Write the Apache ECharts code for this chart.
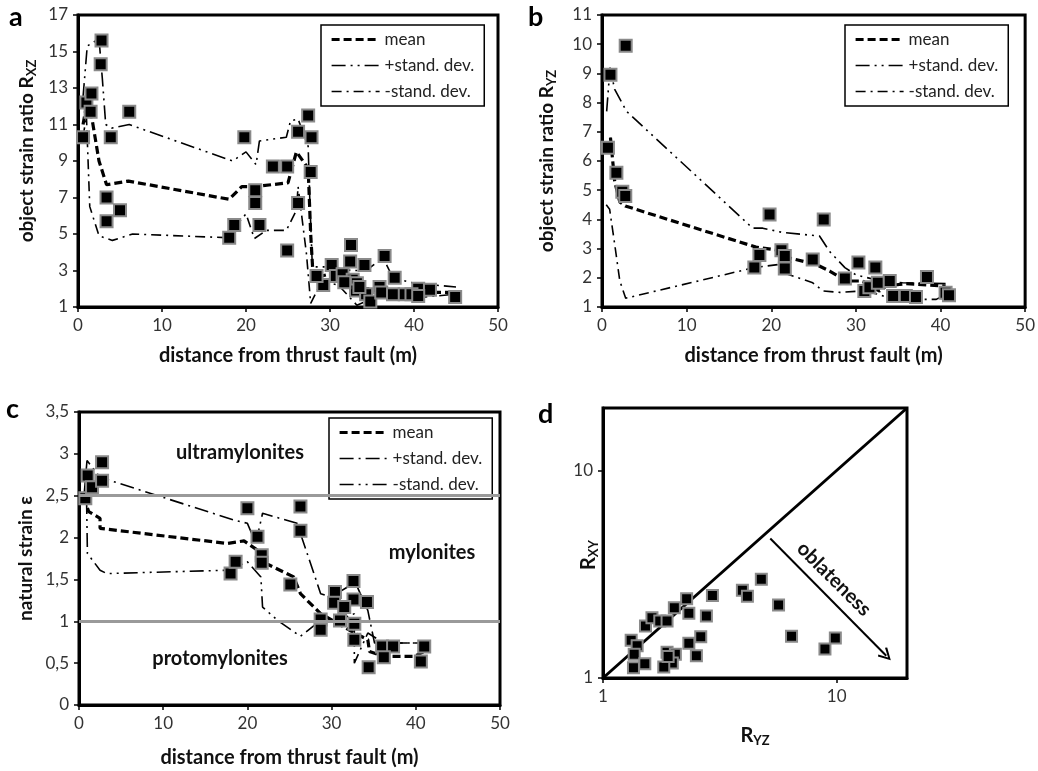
<!DOCTYPE html>
<html>
<head>
<meta charset="utf-8">
<script src="https://cdn.jsdelivr.net/npm/echarts@6/dist/echarts.min.js"></script>
<style>
  html, body { margin: 0; padding: 0; background: #fff; }
  #main { width: 1038px; height: 771px; }
</style>
</head>
<body>
<div id="main"></div>
<script>
// panel a : R_XZ vs distance
var aPoints = [[0.6,10.3],[1.0,12.2],[1.6,12.7],[1.5,11.7],[2.8,15.6],[2.7,14.3],[3.9,10.3],[6.1,11.7],
  [3.4,7.0],[3.4,5.7],[5.0,6.3],[19.8,10.3],[18.0,4.8],[18.6,5.5],[23.2,8.7],[24.9,8.7],[21.1,7.4],
  [21.1,6.7],[21.6,5.5],[24.9,4.1],[26.2,10.6],[26.2,6.7],[27.4,11.5],[27.8,10.3],[27.7,8.4],
  [32.5,4.4],[32.4,3.5],[30.2,3.3],[34.1,3.3],[36.5,3.8],[37.7,2.6],[29.2,2.2],[28.4,2.7],[30.7,2.7],
  [31.5,2.8],[32.7,2.5],[33.2,2.3],[33.1,1.9],[34.3,1.7],[34.8,1.3],[35.9,2.1],[36.1,1.8],[37.5,1.7],
  [38.9,1.7],[40.5,2.0],[41.9,1.95],[44.9,1.55],[31.7,2.35],[33.5,2.1],[39.7,1.7],[40.5,1.6]];
var aMean = [[0.6,11.0],[1.0,12.0],[1.6,11.5],[2.5,9.0],[3.4,7.7],[6.0,7.9],[18.0,6.9],[19.5,7.6],
  [21.0,7.6],[25.0,7.8],[26.0,9.5],[27.4,8.6],[27.7,5.0],[28.0,2.6],[30.0,2.8],[32.5,2.6],[34.0,2.0],
  [36.0,2.0],[38.0,1.8],[41.0,1.8],[45.0,1.8]];
var aPlus = [[0.6,12.5],[1.1,15.3],[2.5,15.7],[2.9,13.5],[3.3,11.0],[4.0,10.8],[6.1,11.0],[18.4,9.0],
  [20.0,9.5],[21.2,8.8],[21.6,10.1],[24.8,10.3],[25.3,11.2],[26.2,11.3],[27.4,9.8],[27.6,6.8],
  [27.9,3.2],[30.0,3.2],[32.5,3.0],[34.3,3.0],[36.3,3.7],[37.5,2.6],[40.0,2.3],[45.0,2.1]];
var aMinus = [[0.6,10.3],[1.0,11.5],[1.4,6.5],[2.5,4.9],[4.1,4.65],[6.5,5.0],[17.6,4.8],[20.0,6.1],
  [21.0,4.75],[22.4,5.2],[24.8,5.2],[26.0,6.3],[26.2,7.6],[27.2,3.9],[27.7,1.2],[29.0,2.4],[31.0,2.2],
  [33.2,1.1],[36.3,1.7],[40.0,1.5],[45.0,1.7]];

// panel b : R_YZ vs distance
var bPoints = [[0.7,6.45],[1.0,8.95],[2.8,9.95],[1.7,5.6],[2.4,4.95],[2.75,4.8],[18.0,2.35],[18.6,2.78],
  [19.8,4.17],[21.2,2.94],[21.6,2.75],[21.6,2.32],[24.9,2.63],[26.2,4.0],[28.7,1.98],[30.3,2.52],
  [32.3,2.35],[31.0,1.55],[31.6,1.68],[32.6,1.83],[34.0,1.89],[34.4,1.38],[35.9,1.38],[37.1,1.34],
  [38.4,2.03],[40.6,1.49],[41.0,1.4]];
var bMean = [[0.6,6.4],[1.0,6.8],[1.5,5.3],[2.1,4.6],[2.75,4.46],[18.2,3.05],[20.9,2.94],[21.8,2.7],
  [25.3,2.46],[26.9,2.23],[28.9,1.89],[30.8,1.89],[31.6,1.72],[32.8,1.55],[33.6,1.72],[35.9,1.8],[40.6,1.72]];
var bPlus = [[0.55,7.7],[0.95,9.2],[1.5,8.45],[2.9,7.7],[17.8,3.7],[19.0,3.7],[21.4,3.55],[25.7,3.43],
  [26.9,2.9],[28.7,2.35],[30.0,2.1],[32.8,1.9],[35.5,1.83],[40.6,1.8]];
var bMinus = [[0.5,4.5],[0.9,4.35],[1.5,3.15],[2.1,1.9],[2.8,1.3],[18.0,2.35],[21.0,2.46],[21.4,2.18],
  [24.9,1.83],[26.1,1.55],[28.1,1.5],[30.8,1.55],[32.8,1.43],[34.7,1.2],[37.5,1.26],[39.5,1.26],[40.6,1.43]];

// panel c : natural strain vs distance
var cPoints = [[0.75,2.47],[1.03,2.74],[1.55,2.6],[2.74,2.9],[2.74,2.68],[20.0,2.35],[18.0,1.57],
  [18.6,1.71],[21.2,2.01],[21.7,1.79],[21.7,1.7],[25.1,1.44],[26.3,2.37],[26.3,2.08],[32.6,1.48],
  [30.4,1.35],[30.3,1.22],[32.6,1.26],[34.2,1.23],[31.5,1.17],[31.0,1.01],[28.7,1.02],[28.7,0.9],
  [32.7,0.97],[32.7,0.78],[36.0,0.7],[37.3,0.7],[36.2,0.57],[41.0,0.7],[40.6,0.52],[34.4,0.45]];
var cMean = [[0.55,2.49],[1.15,2.31],[2.5,2.23],[2.5,2.11],[17.6,1.93],[19.6,1.96],[21.2,1.85],
  [21.8,1.71],[25.5,1.53],[26.3,1.33],[28.7,1.09],[31.5,0.93],[32.7,0.86],[34.3,0.78],[34.5,0.64],
  [36.2,0.58],[39.8,0.58],[41.0,0.64]];
var cPlus = [[0.6,2.5],[0.95,2.92],[2.5,2.72],[18.4,2.21],[20.0,2.17],[21.0,1.93],[21.8,2.29],
  [25.9,2.17],[28.7,1.33],[29.9,1.29],[31.9,1.41],[32.7,1.49],[34.3,1.13],[35.1,0.74],[41.0,0.74]];
var cMinus = [[0.9,2.45],[1.0,1.81],[2.5,1.61],[3.3,1.57],[17.6,1.61],[20.0,1.71],[21.6,1.53],
  [21.8,1.17],[23.6,1.01],[26.3,0.82],[28.7,1.01],[30.5,1.0],[32.7,1.09],[32.7,0.5],[34.3,0.86],
  [36.2,0.74],[41.0,0.74]];
var cZones = [1, 2.5];

// panel d : Flinn diagram, [R_YZ, R_XY]
var dPoints = [[1.32,1.52],[1.40,1.43],[1.36,1.30],[1.35,1.12],[1.51,1.17],[1.52,1.78],[1.62,1.95],
  [1.75,1.88],[1.88,1.88],[2.02,2.18],[2.28,2.41],[2.33,2.05],[2.77,1.99],[2.94,2.50],[3.95,2.65],
  [4.15,2.48],[4.76,2.99],[5.64,2.25],[6.41,1.59],[8.91,1.38],[9.87,1.56],[2.62,1.58],[2.33,1.47],
  [2.51,1.28],[1.88,1.33],[2.04,1.30],[1.98,1.18],[1.82,1.13],[1.9,1.27]];
var dDiagonal = [[1,1],[20,20]];
var dArrow = [[5.2,4.7],[16.3,1.28]];

var legendNames = {mean: 'mean', plus: '+stand. dev.', minus: '-stand. dev.'};
var FONT = 'Lato, "Open Sans", sans-serif';

var myChart = echarts.init(document.getElementById('main'));

var grids = [
  {left: 78, top: 15, width: 420, height: 292},
  {left: 602, top: 15, width: 424, height: 292},
  {left: 79, top: 412, width: 421, height: 293},
  {left: 603, top: 408, width: 304, height: 270}
];
grids.forEach(function (g) {
  g.show = true; g.borderColor = '#000'; g.borderWidth = 3; g.backgroundColor = '#fff';
});

var tickLabel = {fontSize: 17, color: '#333', fontFamily: FONT};
function nameStyle(pad) {
  return {fontSize: 19, fontWeight: 'bold', color: '#111', fontFamily: FONT, padding: pad || 0,
    rich: {sub: {fontSize: 13, fontWeight: 'bold', fontFamily: FONT, color: '#111', padding: [9, 0, 0, 0]}}};
}

function distAxis(idx, gap) {
  return {
    type: 'value', gridIndex: idx, min: 0, max: 50, interval: 10,
    name: 'distance from thrust fault (m)',
    nameLocation: 'middle', nameGap: gap, nameMoveOverlap: false,
    nameTextStyle: Object.assign(nameStyle(), {fontSize: 20}),
    axisLine: {lineStyle: {color: '#000', width: 3}},
    axisTick: {length: 5, lineStyle: {color: '#000', width: 1.5}},
    axisLabel: Object.assign({margin: 10}, tickLabel),
    splitLine: {show: false}
  };
}
function valAxis(idx, min, max, interval, name, gap, pad, fmt) {
  return {
    type: 'value', gridIndex: idx, min: min, max: max, interval: interval,
    name: name, nameLocation: 'middle', nameRotate: 90, nameGap: gap, nameMoveOverlap: false,
    nameTextStyle: nameStyle(pad),
    axisLine: {lineStyle: {color: '#000', width: 3}},
    axisTick: {length: 5, lineStyle: {color: '#000', width: 1.5}},
    axisLabel: Object.assign({margin: 10, formatter: fmt}, tickLabel),
    splitLine: {show: false}
  };
}
function logFmt(v) {
  var l = Math.log10(v);
  return Math.abs(l - Math.round(l)) < 1e-6 ? String(Math.round(v)) : '';
}
function logAxis(idx, name, gap, rotate, pad) {
  return {
    type: 'log', logBase: 10, gridIndex: idx, min: 1, max: 20,
    name: name, nameLocation: 'middle', nameGap: gap, nameRotate: rotate, nameMoveOverlap: false,
    nameTextStyle: Object.assign(nameStyle(pad), {fontSize: 20}),
    axisLine: {lineStyle: {color: '#000', width: 3}},
    axisTick: {length: 5, lineStyle: {color: '#000', width: 1.5}},
    axisLabel: Object.assign({margin: 10, formatter: logFmt, showMaxLabel: false}, tickLabel),
    splitLine: {show: false}, minorTick: {show: false}, minorSplitLine: {show: false}
  };
}

var meanStyle = {color: '#000', width: 3.2, type: [8, 4]};
var plusStyle = {color: '#000', width: 1.6, type: [14, 5, 2, 5, 2, 5]};
var minusStyle = {color: '#000', width: 1.6, type: [10, 5, 2, 5]};

function lineSeries(name, data, idx, style) {
  return {name: name, type: 'line', xAxisIndex: idx, yAxisIndex: idx, data: data,
    symbol: 'none', lineStyle: style, itemStyle: {color: '#000'}, z: 2, silent: true};
}
function pointSeries(data, idx, size) {
  return {type: 'scatter', xAxisIndex: idx, yAxisIndex: idx, data: data, symbol: 'rect',
    symbolSize: size,
    itemStyle: {color: '#000', opacity: 1, borderColor: '#8a8a8a', borderWidth: 2}, z: 3};
}
function legendFor(key, left, top) {
  return {
    data: ['mean_' + key, 'plus_' + key, 'minus_' + key], orient: 'vertical', left: left, top: top,
    itemWidth: 48, itemHeight: 16, itemGap: 9, padding: [6, 10, 6, 9],
    borderColor: '#000', borderWidth: 1.5, backgroundColor: '#fff',
    itemStyle: {opacity: 0},
    lineStyle: {width: 'inherit', type: 'inherit'},
    formatter: function (n) { return legendNames[n.split('_')[0]]; },
    textStyle: {fontSize: 17, color: '#222', fontFamily: FONT}
  };
}

var cMeanSeries = lineSeries('mean_c', cMean, 2, meanStyle);
cMeanSeries.markLine = {
  silent: true, symbol: 'none', label: {show: false},
  lineStyle: {color: '#9a9a9a', width: 3, type: 'solid'},
  data: cZones.map(function (v) { return {yAxis: v}; })
};

var option = {
  animation: false,
  backgroundColor: '#fff',
  grid: grids,
  legend: [legendFor('a', 321, 25), legendFor('b', 845, 25), legendFor('c', 329, 418)],
  xAxis: [distAxis(0, 39), distAxis(1, 39), distAxis(2, 43), logAxis(3, 'R{sub|YZ}', 47, 0)],
  yAxis: [
    valAxis(0, 1, 17, 2, 'object strain ratio R{sub|XZ}', 40, [0, 0, 0, 20]),
    valAxis(1, 1, 11, 1, 'object strain ratio R{sub|YZ}', 44),
    valAxis(2, 0, 3.5, 0.5, 'natural strain ε', 44, 0, function (v) { return String(v).replace('.', ','); }),
    logAxis(3, 'R{sub|XY}', 3, 90, [0, 24, 0, 0])
  ],
  series: [
    lineSeries('mean_a', aMean, 0, meanStyle),
    lineSeries('plus_a', aPlus, 0, plusStyle),
    lineSeries('minus_a', aMinus, 0, minusStyle),
    pointSeries(aPoints, 0, 12),
    lineSeries('mean_b', bMean, 1, meanStyle),
    lineSeries('plus_b', bPlus, 1, plusStyle),
    lineSeries('minus_b', bMinus, 1, minusStyle),
    pointSeries(bPoints, 1, 12),
    cMeanSeries,
    lineSeries('plus_c', cPlus, 2, {color: '#000', width: 1.6, type: [14, 5, 2, 5]}),
    lineSeries('minus_c', cMinus, 2, {color: '#000', width: 1.6, type: [14, 5, 2, 5, 2, 5]}),
    pointSeries(cPoints, 2, 12),
    {type: 'line', xAxisIndex: 3, yAxisIndex: 3, data: dDiagonal, symbol: 'none', silent: true,
      lineStyle: {color: '#000', width: 3}, z: 2,
      markLine: {silent: true, symbol: ['none', 'path://M5,0 L10,9 L8.6,10 L5,3 L1.4,10 L0,9 Z'],
        symbolSize: [13, 13], label: {show: false},
        lineStyle: {color: '#000', width: 2, type: 'solid'},
        data: [[{coord: dArrow[0]}, {coord: dArrow[1]}]]}},
    pointSeries(dPoints, 3, 11)
  ],
  graphic: [
    {type: 'text', left: 9, top: 4, style: {text: 'a', font: 'bold 27px ' + FONT, fill: '#000'}},
    {type: 'text', left: 528, top: 4, style: {text: 'b', font: 'bold 27px ' + FONT, fill: '#000'}},
    {type: 'text', left: 6, top: 396, style: {text: 'c', font: 'bold 27px ' + FONT, fill: '#000'}},
    {type: 'text', left: 538, top: 401, style: {text: 'd', font: 'bold 27px ' + FONT, fill: '#000'}},
    {type: 'text', x: 240, y: 453, style: {text: 'ultramylonites', font: 'bold 20px ' + FONT, fill: '#111', align: 'center', verticalAlign: 'middle'}, z: 10},
    {type: 'text', x: 432, y: 553, style: {text: 'mylonites', font: 'bold 20px ' + FONT, fill: '#111', align: 'center', verticalAlign: 'middle'}, z: 10},
    {type: 'text', x: 220, y: 659, style: {text: 'protomylonites', font: 'bold 20px ' + FONT, fill: '#111', align: 'center', verticalAlign: 'middle'}, z: 10},
    {type: 'text', x: 834, y: 579, rotation: -Math.PI / 4, style: {text: 'oblateness', font: 'bold 20px ' + FONT, fill: '#111', align: 'center', verticalAlign: 'middle'}, z: 10}
  ]
};
myChart.setOption(option);
</script>
</body>
</html>
